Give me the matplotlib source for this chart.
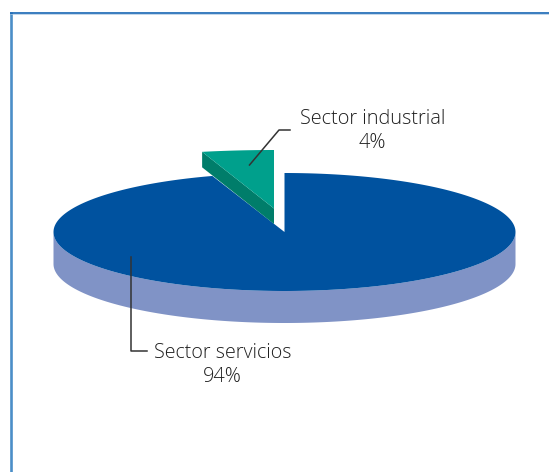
import numpy as np
import matplotlib
matplotlib.use("Agg")
import matplotlib.pyplot as plt
from matplotlib.patches import Polygon

labels = ["Sector servicios", "Sector industrial"]
shares = [94, 4]

plt.rcParams['font.family'] = ['Open Sans', 'DejaVu Sans']

W, H = 549, 472
fig = plt.figure(figsize=(W/100, H/100), dpi=100)
ax = fig.add_axes([0, 0, 1, 1])
ax.set_xlim(0, W)
ax.set_ylim(H, 0)
ax.axis('off')

# pie geometry in pixels, angles are clockwise from the top
cx, cy, rx, ry, depth = 284.5, 232, 231, 59, 32

def rim(t, x0, y0, a, b):
    t = np.radians(t)
    return np.column_stack([x0 + a*np.sin(t), y0 - b*np.cos(t)])

# main slice, the tilt of the drawing closes the gap a bit
sweep_main = shares[0]*3.6 + 3.4
t_main = np.linspace(0, sweep_main, 300)

# side wall of the main slice (only the front half shows)
t_front = np.linspace(90, 270, 200)
front = rim(t_front, cx, cy, rx, ry)
wall = np.vstack([front, front[::-1] + [0, depth]])
ax.add_patch(Polygon(wall, closed=True, fc='#8093c6', ec='none', zorder=1))

top = np.vstack([[cx, cy], rim(t_main, cx, cy, rx, ry)])
ax.add_patch(Polygon(top, closed=True, fc='#00529f', ec='none', zorder=2))

# pulled out slice, stretched by the perspective of the drawing
tx, ty, trx, trry, tdepth = 274, 208.5, 289, 58.5, 15.5
t_ind = np.linspace(360 - shares[1]*3.6, 360, 40)
arc = rim(t_ind, tx, ty, trx, trry)
ax.add_patch(Polygon([arc[0], [tx, ty], [tx, ty + tdepth], arc[0] + [0, tdepth]],
                     closed=True, fc='#007d6a', ec='none', zorder=3))
ax.add_patch(Polygon(np.vstack([[tx, ty], arc]), closed=True, fc='#00a08c', ec='none', zorder=4))

# frame
ax.plot([10.5, 10.5], [12, H], color='#4b8ec8', lw=1.9, zorder=0, solid_capstyle='butt')
ax.plot([10, W], [12.5, 12.5], color='#1766b4', lw=1.2, zorder=0, solid_capstyle='butt')
ax.plot([10, W], [13.7, 13.7], color='#a9c6e2', lw=0.5, zorder=0, solid_capstyle='butt')

# leader lines
ax.plot([249.5, 279, 290], [165, 130, 130], color='#333333', lw=1.1, zorder=5)
ax.plot([131, 131, 147], [257, 351, 351], color='#333333', lw=1.1, zorder=5)

# labels
txt = '#1f1f1f'
ax.text(373, 119, labels[1], ha='center', va='center', fontsize=14.3, color=txt, fontweight='light')
ax.text(372, 143, f"{shares[1]}%", ha='center', va='center', fontsize=14.3, color=txt, fontweight='light')
ax.text(223, 353, labels[0], ha='center', va='center', fontsize=14.1, color=txt, fontweight='light')
ax.text(222, 377, f"{shares[0]}%", ha='center', va='center', fontsize=14.3, color=txt, fontweight='light')

fig.savefig("out.png", dpi=100)
